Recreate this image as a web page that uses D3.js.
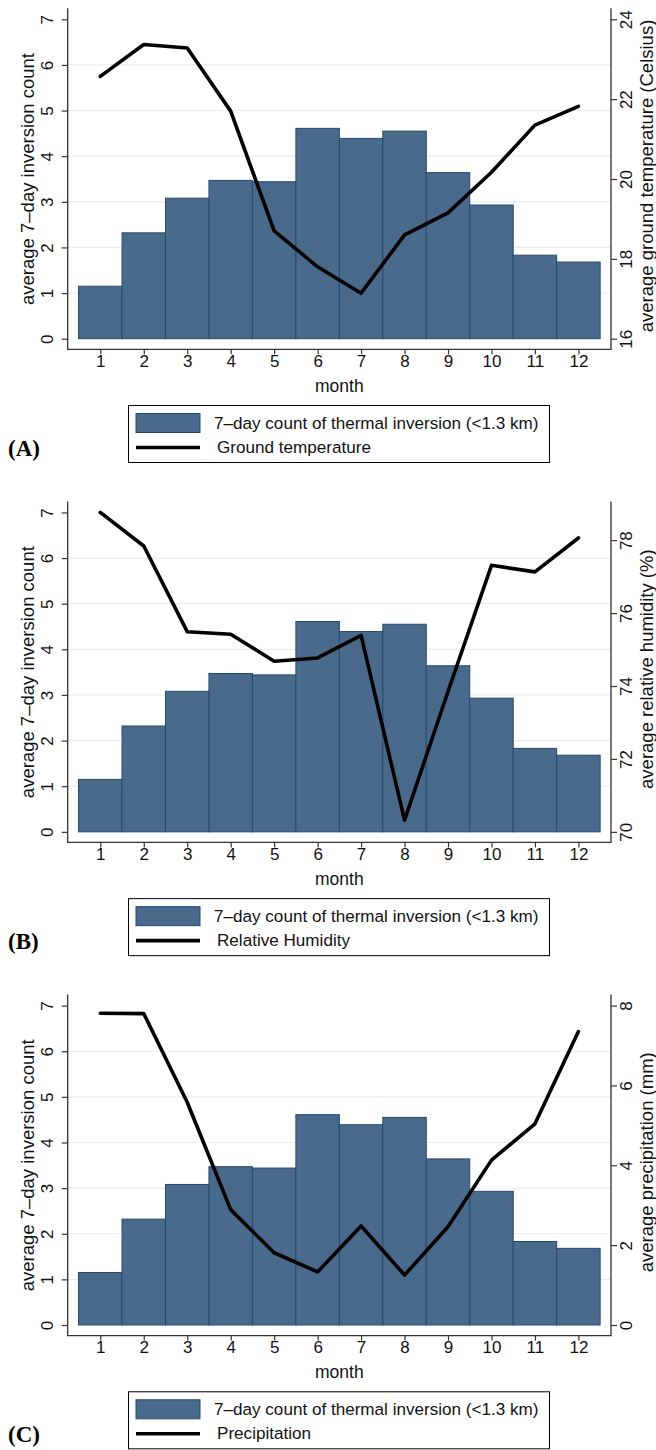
<!DOCTYPE html>
<html>
<head>
<meta charset="utf-8">
<script src="https://cdn.jsdelivr.net/npm/d3@7/dist/d3.min.js"></script>
<style>
  html, body { margin: 0; padding: 0; background: #ffffff; }
  svg { display: block; }
</style>
</head>
<body>
<div id="chart"></div>
<script>
// Months on the horizontal axis
const months = [1, 2, 3, 4, 5, 6, 7, 8, 9, 10, 11, 12];

// Average 7-day count of thermal inversions (<1.3 km) by month
const inversionCount = [1.15, 2.32, 3.08, 3.47, 3.44, 4.61, 4.39, 4.55, 3.64, 2.93, 1.83, 1.68];

// Weather covariates by month
const groundTemperature = [22.57, 23.37, 23.28, 21.70, 18.70, 17.80, 17.14, 18.60, 19.15, 20.17, 21.35, 21.82];
const relativeHumidity  = [78.76, 77.84, 75.49, 75.42, 74.68, 74.77, 75.39, 70.32, 73.85, 77.31, 77.13, 78.06];
const precipitation     = [7.81, 7.80, 5.58, 2.89, 1.81, 1.33, 2.48, 1.25, 2.46, 4.13, 5.04, 7.35];

// Tick labels
const leftTicks = [0, 1, 2, 3, 4, 5, 6, 7];
const leftGrid = [1, 2, 3, 4, 5, 6];
const tempTicks = [16, 18, 20, 22, 24];
const humidityTicks = [70, 72, 74, 76, 78];
const precipTicks = [0, 2, 4, 6, 8];

// Right-axis ranges
const tempDomain = [16, 24];
const humidityDomain = [70, 78.76];
const precipDomain = [0, 8];

// Titles and legend labels
const leftTitle = "average 7\u2013day inversion count";
const xTitle = "month";
const barLegend = "7\u2013day count of thermal inversion (<1.3 km)";
const panelNames = ["(A)", "(B)", "(C)"];
const rightTitles = ["average ground temperature (Celsius)", "average relative humidity (%)", "average precipitation (mm)"];
const lineLegends = ["Ground temperature", "Relative Humidity", "Precipitation"];

const panels = [
  { name: panelNames[0], series: groundTemperature, domain: tempDomain, ticks: tempTicks, title: rightTitles[0], legend: lineLegends[0] },
  { name: panelNames[1], series: relativeHumidity, domain: humidityDomain, ticks: humidityTicks, title: rightTitles[1], legend: lineLegends[1] },
  { name: panelNames[2], series: precipitation, domain: precipDomain, ticks: precipTicks, title: rightTitles[2], legend: lineLegends[2] }
];

const W = 656, H = 1450;
const sans = '"Liberation Sans", Arial, Helvetica, sans-serif';
const serif = '"Liberation Serif", "DejaVu Serif", serif';
const svg = d3.select("#chart").append("svg").attr("width", W).attr("height", H)
  .style("font-family", sans);

// Layout of one panel
const plotLeft = 67.7, plotRight = 611;
const yTop = 19.3, yZero = 338.7;       // positions of 7 and 0 on the left scale
const frameTop = 8.3, frameBottom = 349.3;
const panelStep = 493.15;

const barFill = "#4a6a8b", barStroke = "#244a6e";
const axisColor = "#333333";
const gridColor = "#e6eef1";
const textColor = "#111111";

const x = d3.scaleLinear().domain([0.25, 12.75]).range([plotLeft, plotRight]);

panels.forEach((p, i) => {
  const g = svg.append("g").attr("transform", `translate(0,${i * panelStep})`);
  const yL = d3.scaleLinear().domain([0, 7]).range([yZero, yTop]);
  const yR = d3.scaleLinear().domain(p.domain).range([yZero, yTop]);

  // grid lines at the left-axis ticks
  g.append("g").selectAll("line").data(leftGrid).join("line")
    .attr("x1", plotLeft).attr("x2", plotRight)
    .attr("y1", d => yL(d)).attr("y2", d => yL(d))
    .attr("stroke", gridColor).attr("stroke-width", 1.2);

  // bars
  g.append("g").selectAll("rect").data(months).join("rect")
    .attr("x", (m) => x(m - 0.5))
    .attr("width", (m) => x(m + 0.5) - x(m - 0.5))
    .attr("y", (m, j) => yL(inversionCount[j]))
    .attr("height", (m, j) => yL(0) - yL(inversionCount[j]))
    .attr("fill", barFill)
    .attr("stroke", barStroke)
    .attr("stroke-width", 1);

  // weather line on the right scale
  const line = d3.line().x((d, j) => x(months[j])).y(d => yR(d));
  g.append("path").datum(p.series)
    .attr("d", line)
    .attr("fill", "none")
    .attr("stroke", "#000")
    .attr("stroke-width", 3.6)
    .attr("stroke-linejoin", "round")
    .attr("stroke-linecap", "round");

  // axes
  const fmt = d3.format("d");
  const axL = g.append("g").attr("transform", `translate(${plotLeft},0)`)
    .call(d3.axisLeft(yL).tickValues(leftTicks).tickSize(6).tickSizeOuter(0).tickFormat(fmt));
  const axR = g.append("g").attr("transform", `translate(${plotRight},0)`)
    .call(d3.axisRight(yR).tickValues(p.ticks).tickSize(6).tickSizeOuter(0).tickFormat(fmt));
  const axB = g.append("g").attr("transform", `translate(0,${frameBottom})`)
    .call(d3.axisBottom(x).tickValues(months).tickSize(5).tickSizeOuter(0).tickFormat(fmt));

  [axL, axR, axB].forEach(a => {
    a.attr("font-family", null).attr("font-size", null);
    a.select(".domain").remove();
    a.selectAll(".tick line").attr("stroke", axisColor).attr("stroke-width", 1.2);
    a.selectAll(".tick text")
      .style("font-family", sans).style("font-size", "17px")
      .attr("fill", textColor);
  });
  axL.selectAll(".tick text")
    .attr("x", 0).attr("y", 0).attr("dy", 0)
    .attr("text-anchor", "middle")
    .attr("transform", "translate(-14.4,0) rotate(-90)");
  axR.selectAll(".tick text")
    .attr("x", 0).attr("y", 0).attr("dy", 0)
    .attr("text-anchor", "middle")
    .attr("transform", "translate(20.7,0) rotate(-90)");
  axB.selectAll(".tick text")
    .attr("y", 17.5).attr("dy", 0);

  // frame lines (left, bottom, right)
  g.append("path")
    .attr("d", `M${plotLeft},${frameTop}V${frameBottom}H${plotRight}V${frameTop}`)
    .attr("fill", "none").attr("stroke", axisColor).attr("stroke-width", 1.3);

  // axis titles
  const midY = (yTop + yZero) / 2;
  g.append("text").text(leftTitle)
    .style("font-size", "18.5px").attr("fill", textColor).attr("text-anchor", "middle")
    .attr("transform", `translate(33.5,${midY}) rotate(-90)`);
  g.append("text").text(p.title)
    .style("font-size", "18.5px").attr("fill", textColor).attr("text-anchor", "middle")
    .attr("transform", `translate(652.5,${midY - 3}) rotate(-90)`);
  g.append("text").text(xTitle)
    .style("font-size", "17.5px").attr("fill", textColor).attr("text-anchor", "middle")
    .attr("x", (plotLeft + plotRight) / 2).attr("y", 391.5);

  // legend
  const lg = g.append("g");
  lg.append("rect").attr("x", 128.5).attr("y", 405.5).attr("width", 421).attr("height", 57)
    .attr("fill", "#fff").attr("stroke", "#000").attr("stroke-width", 1);
  lg.append("rect").attr("x", 136).attr("y", 413.5).attr("width", 64).attr("height", 19)
    .attr("fill", barFill).attr("stroke", barStroke).attr("stroke-width", 1);
  lg.append("line").attr("x1", 136).attr("x2", 200).attr("y1", 447.5).attr("y2", 447.5)
    .attr("stroke", "#000").attr("stroke-width", 3.6);
  lg.append("text").text(barLegend).attr("x", 214).attr("y", 428.5)
    .style("font-size", "17.1px").attr("fill", textColor);
  lg.append("text").text(p.legend).attr("x", 217).attr("y", 453)
    .style("font-size", "17.1px").attr("fill", textColor);

  // panel letter
  g.append("text").text(p.name)
    .attr("x", 8).attr("y", 456)
    .style("font-family", serif)
    .style("font-weight", "bold")
    .style("font-size", "23px")
    .attr("fill", "#000");
});
</script>
</body>
</html>
